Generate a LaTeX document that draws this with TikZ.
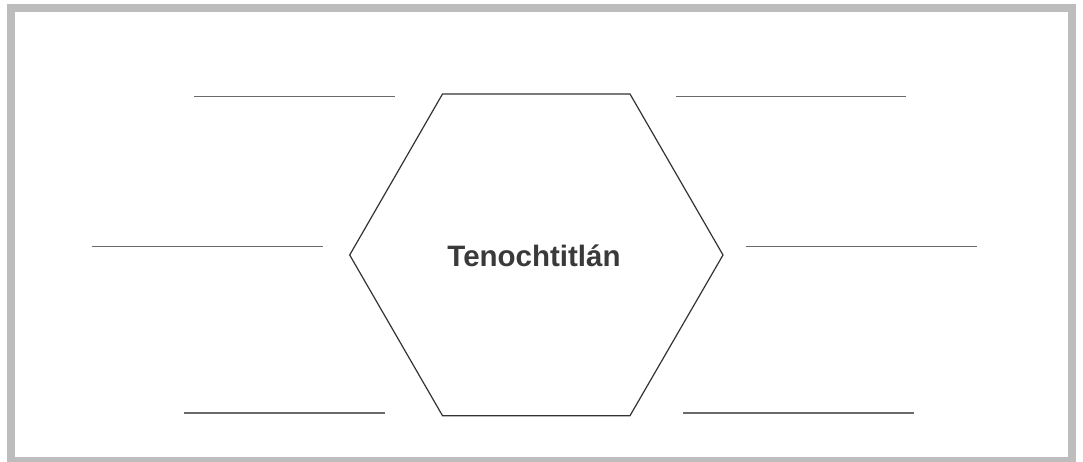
\documentclass[tikz,border=0pt]{standalone}
\usepackage{fontspec}
\setmainfont{Liberation Sans}
\definecolor{framegray}{HTML}{BDBDBD}
\definecolor{linegray}{HTML}{6A6A6A}
\definecolor{hexdark}{HTML}{333333}
\definecolor{textdark}{HTML}{3A3A3A}
\begin{document}
\begin{tikzpicture}[x=1pt,y=-1pt,
  blank/.style={draw=linegray,line width=1.3pt},
  hexline/.style={draw=hexdark,line width=1.2pt,line join=miter},
  title/.style={font=\bfseries\fontsize{29.5}{31}\selectfont,text=textdark,inner sep=0pt}]
\useasboundingbox (0,0) rectangle (1083,462);
\fill[white] (0,0) rectangle (1083,462);
\draw[framegray,line width=8pt] (11,8) rectangle (1072,461);
% hexagon
\coordinate (h1) at (442.5,94);
\coordinate (h2) at (630,94);
\coordinate (h3) at (723,255);
\coordinate (h4) at (630,415.7);
\coordinate (h5) at (442.5,415.7);
\coordinate (h6) at (349.7,255);
\draw[hexline] (h1) -- (h2) -- (h3) -- (h4) -- (h5) -- (h6) -- cycle;
\node[title,anchor=base] (center) at (534,266.5) {Tenochtitlán};
% blank lines
\coordinate (a1) at (194.3,96.5); \coordinate (a2) at (395,96.5);
\coordinate (b1) at (675.7,96.5); \coordinate (b2) at (905.7,96.5);
\coordinate (c1) at (92.3,246.5); \coordinate (c2) at (322.7,246.5);
\coordinate (d1) at (746,246.5); \coordinate (d2) at (977,246.5);
\coordinate (e1) at (184.3,413); \coordinate (e2) at (385,413);
\coordinate (f1) at (683,413); \coordinate (f2) at (914,413);
\draw[blank] (a1) -- (a2);
\draw[blank] (b1) -- (b2);
\draw[blank] (c1) -- (c2);
\draw[blank] (d1) -- (d2);
\draw[blank] (e1) -- (e2);
\draw[blank] (f1) -- (f2);
\end{tikzpicture}
\end{document}
